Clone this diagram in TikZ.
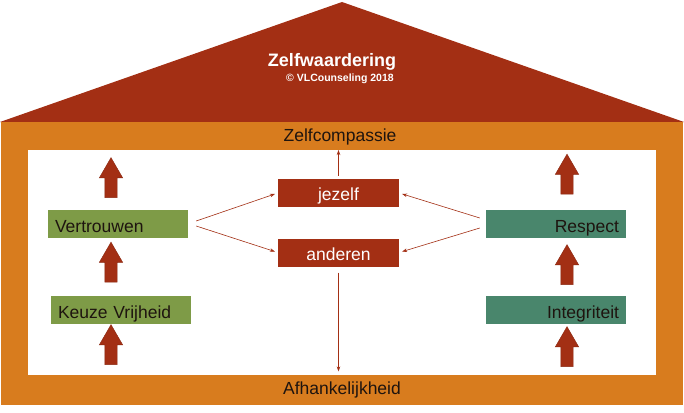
\documentclass[tikz,border=0pt]{standalone}
\usepackage{fontspec}
\setmainfont{Liberation Sans}
\usepackage{tikz}
\usetikzlibrary{arrows.meta,calc,shapes.arrows}

\definecolor{roofred}{RGB}{163,47,20}
\definecolor{houseorange}{RGB}{216,124,30}
\definecolor{olive}{RGB}{126,155,71}
\definecolor{teal}{RGB}{73,134,108}
\definecolor{ink}{RGB}{30,20,15}

\begin{document}
\begin{tikzpicture}[x=1pt,y=-1pt,
  lbl/.style={font=\fontsize{17.5}{20}\selectfont,text=ink,inner sep=0pt},
  vbox/.style={minimum width=140pt,minimum height=28pt,inner xsep=7pt,inner ysep=0pt,text width=126pt,
    text height=16.5pt,text depth=0.5pt,font=\fontsize{17.5}{20}\selectfont,text=ink},
  green/.style={vbox,fill=olive,align=left},
  tealbox/.style={vbox,fill=teal,align=right},
  redbox/.style={fill=roofred,minimum width=121pt,minimum height=28pt,inner sep=0pt,text=white,
    text height=15.5pt,text depth=0.5pt,font=\fontsize{17.5}{20}\selectfont},
  blockarr/.style={single arrow,fill=roofred,draw=roofred!85!black,line width=0.4pt,shape border rotate=90,
    minimum height=40pt,minimum width=23pt,inner sep=6pt,single arrow head extend=5.5pt,single arrow tip angle=60},
  thinarr/.style={draw=roofred,line width=0.6pt,-{Stealth[length=5pt,width=3.5pt]}}]
\useasboundingbox (0,0) rectangle (684,412);

% house
\fill[roofred] (0,122) -- (342,2) -- (684,122) -- cycle;
\node[fill=houseorange,anchor=north west,minimum width=682pt,minimum height=283pt,inner sep=0pt] (outer) at (1,122) {};
\node[fill=white,anchor=north west,minimum width=628pt,minimum height=225pt,inner sep=0pt] (inner) at (28,150) {};

\node[text=white,font=\fontsize{18}{20}\selectfont\bfseries,inner sep=0pt] (zw) at (332,62) {Zelfwaardering};
\node[text=white,font=\fontsize{10.5}{12}\selectfont\bfseries,inner sep=0pt] (copy) at (340,79) {© VLCounseling 2018};
\node[lbl] (zc) at (340,137) {Zelfcompassie};
\node[lbl] (afh) at (342,390) {Afhankelijkheid};

% pillars
\node[green] (vert) at (118,224) {Vertrouwen};
\node[green] (kv) at (121,310) {Keuze Vrijheid};
\node[tealbox] (resp) at (556,224) {Respect};
\node[tealbox] (integ) at (556,310) {Integriteit};

\node[blockarr] (la1) at (111,183) {};
\node[blockarr] (la2) at (111,267.5) {};
\node[blockarr] (la3) at (111,350) {};
\node[blockarr] (ra1) at (567,179.5) {};
\node[blockarr] (ra2) at (567,270) {};
\node[blockarr] (ra3) at (567,352) {};

% middle
\node[redbox] (jz) at (338.5,193) {jezelf};
\node[redbox] (and) at (338.5,252.5) {anderen};

\draw[thinarr,shorten >=3pt] ([xshift=8pt,yshift=3pt]vert.east) -- (jz.west);
\draw[thinarr,shorten >=3pt] ([xshift=8pt,yshift=-2pt]vert.east) -- (and.west);
\draw[thinarr,shorten >=3pt] ([xshift=-6pt,yshift=6pt]resp.west) -- (jz.east);
\draw[thinarr,shorten >=3pt] ([xshift=-6pt,yshift=-4pt]resp.west) -- (and.east);
\draw[thinarr,shorten <=3pt] (jz.north) -- (jz.north |- inner.north);
\draw[thinarr,shorten <=6pt,shorten >=4pt] (and.south) -- (and.south |- inner.south);
\end{tikzpicture}
\end{document}
